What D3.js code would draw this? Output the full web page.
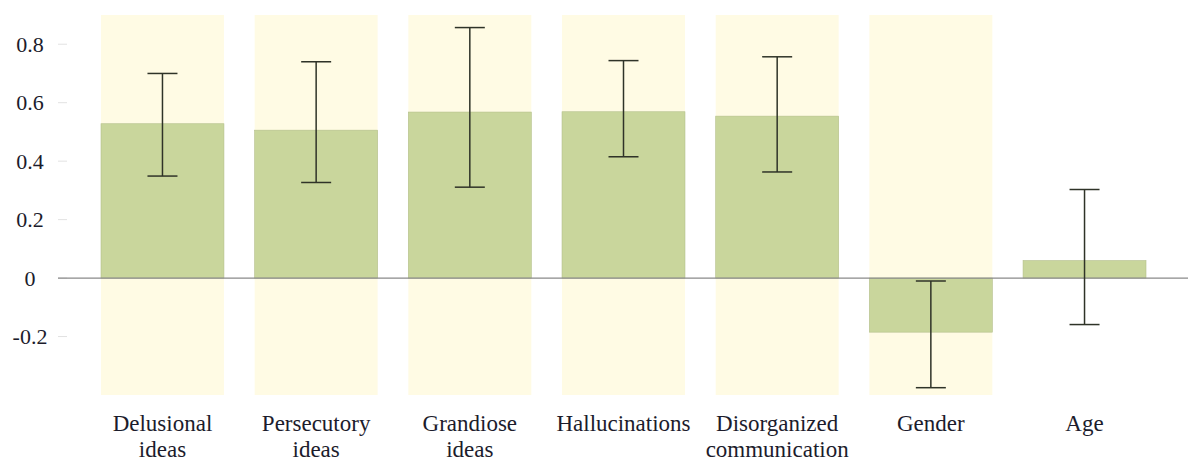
<!DOCTYPE html>
<html>
<head>
<meta charset="utf-8">
<script src="https://cdn.jsdelivr.net/npm/d3@7"></script>
<style>
  body { margin: 0; background: #fff; }
  #chart { width: 1188px; height: 462px; }
  svg text { font-family: "Liberation Serif", "Times New Roman", Times; }
</style>
</head>
<body>
<div id="chart"></div>
<script>
// categories and values
const categories = ["Delusional ideas", "Persecutory ideas", "Grandiose ideas", "Hallucinations", "Disorganized communication", "Gender", "Age"];
const labelLines = [["Delusional", "ideas"], ["Persecutory", "ideas"], ["Grandiose", "ideas"], ["Hallucinations"], ["Disorganized", "communication"], ["Gender"], ["Age"]];
const values = [0.528, 0.506, 0.568, 0.569, 0.554, -0.185, 0.06];
const lower = [0.349, 0.327, 0.311, 0.415, 0.363, -0.375, -0.159];
const upper = [0.70, 0.74, 0.857, 0.744, 0.757, -0.01, 0.303];
const highlighted = [true, true, true, true, true, true, false];
const yTicks = [-0.2, 0, 0.2, 0.4, 0.6, 0.8];
const yTickLabels = ["-0.2", "0", "0.2", "0.4", "0.6", "0.8"];

const FONT = '"Liberation Serif", "Times New Roman", Times';
const W = 1188, H = 462;
const svg = d3.select("#chart").append("svg")
  .attr("width", W).attr("height", H)
  .style("font-family", FONT);

const x = d3.scaleBand().domain(categories).range([101, 1146])
  .paddingInner(0.2).paddingOuter(0);
const y = d3.scaleLinear().domain([-0.4, 0.9]).range([395, 15]);

const data = categories.map((c, i) => ({
  cat: c, lines: labelLines[i], v: values[i], lo: lower[i], hi: upper[i], hl: highlighted[i]
}));

// background bands
svg.selectAll(".band").data(data.filter(d => d.hl)).enter().append("rect")
  .attr("x", d => x(d.cat)).attr("width", x.bandwidth())
  .attr("y", y(0.9)).attr("height", y(-0.4) - y(0.9))
  .attr("fill", "#fffbe4");

// y axis: short light ticks and labels from the scale
const yAxis = svg.append("g");
yAxis.selectAll("line").data(yTicks).enter().append("line")
  .attr("x1", 58).attr("x2", 67)
  .attr("y1", d => y(d)).attr("y2", d => y(d))
  .attr("stroke", "#e2e2e2");
yAxis.selectAll("text").data(yTicks).enter().append("text")
  .attr("x", 30)
  .attr("y", d => y(d))
  .attr("dy", "0.34em")
  .attr("text-anchor", "middle")
  .attr("fill", "#1c1c2c")
  .style("font-family", FONT)
  .style("font-size", "22px")
  .text((d, i) => yTickLabels[i]);

// bars
svg.selectAll(".bar").data(data).enter().append("rect")
  .attr("x", d => x(d.cat)).attr("width", x.bandwidth())
  .attr("y", d => y(Math.max(0, d.v)))
  .attr("height", d => Math.abs(y(d.v) - y(0)))
  .attr("fill", "#c9d69c")
  .attr("stroke", "#b3bf8a").attr("stroke-width", 0.6);

// zero line
svg.append("line")
  .attr("x1", 58).attr("x2", W)
  .attr("y1", y(0)).attr("y2", y(0))
  .attr("stroke", "#8a8a8a").attr("stroke-width", 1.2);

// error bars
const eb = svg.selectAll(".err").data(data).enter().append("g")
  .attr("transform", d => `translate(${x(d.cat) + x.bandwidth() / 2},0)`)
  .attr("stroke", "#2f3328").attr("stroke-width", 1.5);
eb.append("line").attr("y1", d => y(d.lo)).attr("y2", d => y(d.hi));
eb.append("line").attr("x1", -15).attr("x2", 15).attr("y1", d => y(d.lo)).attr("y2", d => y(d.lo));
eb.append("line").attr("x1", -15).attr("x2", 15).attr("y1", d => y(d.hi)).attr("y2", d => y(d.hi));

// category labels
const lab = svg.selectAll(".lab").data(data).enter().append("text")
  .attr("text-anchor", "middle")
  .attr("fill", "#1c1c2c")
  .style("font-family", FONT)
  .style("font-size", "23px");
lab.selectAll("tspan").data(d => d.lines.map(l => ({ l, cx: x(d.cat) + x.bandwidth() / 2 })))
  .enter().append("tspan")
  .attr("x", d => d.cx)
  .attr("y", (d, i) => 431 + i * 26)
  .text(d => d.l);
</script>
</body>
</html>
